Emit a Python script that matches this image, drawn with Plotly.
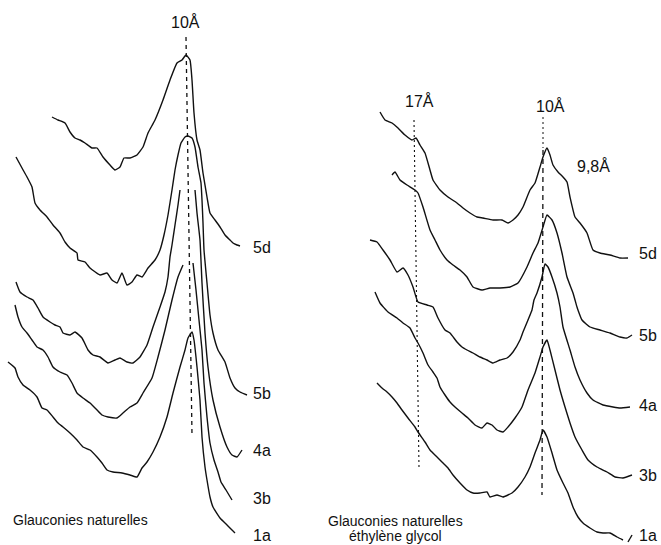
import plotly.graph_objects as go

# ---- Left panel: "Glauconies naturelles" (traces, image-pixel units)
L5d_x = [52, 58, 65, 70, 75, 80, 85, 92, 97, 103, 110, 115, 120, 124, 130, 137, 143, 148, 155, 163, 170, 177, 182, 186,
         190, 192, 194, 197, 200, 203, 207, 210, 215, 220, 225, 230, 233, 237, 240]
L5d_y = [117, 120, 123, 132, 138, 140, 143, 148, 148, 157, 165, 170, 167, 158, 158, 155, 147, 133, 120, 100, 80, 63, 60, 55,
         60, 80, 113, 140, 150, 173, 197, 213, 220, 227, 235, 240, 243, 245, 246]

L5b_x = [16, 22, 27, 32, 35, 40, 47, 53, 60, 65, 70, 77, 78, 85, 90, 100, 107, 112, 117, 122, 127, 132, 137, 142, 148, 155,
         160, 164, 168, 172, 175, 178, 181, 185, 188, 192, 195, 198, 201, 202, 203, 204, 207, 210, 213, 218, 225, 230, 235,
         240, 247]
L5b_y = [157, 168, 177, 187, 203, 210, 217, 225, 233, 242, 248, 253, 260, 262, 268, 275, 273, 280, 283, 273, 285, 282, 275,
         277, 268, 260, 250, 235, 215, 190, 170, 155, 143, 137, 136, 138, 147, 167, 183, 200, 223, 250, 283, 315, 333, 350,
         362, 378, 388, 392, 395]

L4a_x = [16, 20, 27, 33, 38, 43, 50, 55, 60, 63, 70, 75, 82, 88, 93, 100, 108, 115, 120, 127, 133, 140, 147, 153, 160, 165,
         168, 170, 172, 175, 178, 180, None,
         195, 197, 200, 202, 205, 208, 213, 220, 227, 232, 237, 242]
L4a_y = [282, 292, 297, 300, 308, 317, 322, 325, 327, 333, 335, 332, 338, 350, 355, 357, 363, 360, 358, 362, 363, 357, 345,
         327, 307, 292, 277, 257, 245, 225, 205, 190, None,
         190, 213, 240, 283, 333, 367, 400, 427, 447, 455, 457, 450]

L3b_x = [15, 18, 22, 27, 32, 37, 43, 48, 53, 60, 67, 72, 77, 83, 90, 97, 102, 108, 117, 123, 130, 137, 143, 152, 158, 165,
         172, 178, 183, None,
         193, 196, 199, 202, 204, 207, 210, 214, 218, 221, 226, 232]
L3b_y = [305, 317, 327, 333, 340, 347, 350, 357, 367, 372, 375, 383, 393, 398, 403, 410, 415, 417, 418, 413, 407, 403, 393,
         378, 357, 330, 300, 277, 265, None,
         263, 290, 320, 350, 383, 417, 443, 460, 472, 482, 490, 500]

L1a_x = [8, 15, 18, 23, 30, 37, 42, 47, 53, 58, 63, 70, 77, 83, 90, 97, 102, 107, 113, 122, 130, 137, 142, 147, 153, 160,
         167, 173, 180, 185, 188, 192, 194, 197, 200, 202, 205, 207, 210, 213, 220, 227, 232, 235]
L1a_y = [362, 368, 377, 385, 390, 397, 408, 410, 417, 423, 427, 433, 440, 447, 450, 457, 463, 470, 472, 473, 475, 477, 468,
         462, 452, 437, 417, 393, 367, 350, 338, 332, 340, 367, 400, 437, 467, 480, 497, 507, 518, 525, 530, 533]

# ---- Right panel: "Glauconies naturelles, éthylène glycol"
R5d_x = [380, 385, 392, 398, 405, 412, 416, 420, 425, 430, 433, 440, 448, 457, 463, 470, 477, 483, 493, 502, 508, 513, 518,
         523, 530, 535, 540, 543, 547, 550, 553, 558, 563, 567, 570, 575, 580, 587, 593, 600, 610, 620, 628]
R5d_y = [112, 120, 123, 128, 135, 140, 138, 145, 153, 170, 180, 190, 197, 203, 208, 213, 217, 218, 220, 220, 223, 220, 215,
         207, 190, 183, 167, 157, 148, 155, 165, 172, 177, 182, 197, 217, 223, 233, 250, 253, 255, 258, 258]

R5b_x = [392, 395, 400, 407, 415, 418, 423, 430, 435, 440, 447, 453, 460, 467, 473, 482, 490, 500, 510, 518, 527, 533, 538,
         543, 547, 552, 557, 562, 567, 573, 577, 578, 582, 590, 600, 610, 620, 627, 632]
R5b_y = [175, 172, 180, 185, 190, 193, 207, 230, 240, 250, 260, 265, 270, 277, 287, 290, 288, 288, 287, 283, 267, 253, 243,
         227, 215, 220, 233, 253, 277, 293, 307, 310, 320, 327, 330, 333, 337, 338, 335]

R4a_x = [370, 377, 383, 390, 397, 403, 408, 413, 418, 427, 433, 438, 445, 450, 457, 462, 467, 473, 480, 487, 493, 500, 507,
         513, 520, 523, 528, 532, 534, 537, 542, 545, 548, 552, 557, 560, 563, 570, 575, 580, 587, 593, 603, 613, 620, 630]
R4a_y = [240, 242, 250, 260, 272, 268, 275, 287, 302, 305, 307, 318, 330, 333, 342, 347, 350, 353, 357, 360, 363, 360, 358,
         352, 340, 332, 320, 310, 300, 293, 277, 264, 267, 277, 293, 307, 327, 350, 367, 380, 393, 400, 405, 407, 408, 407]

R3b_x = [375, 380, 388, 397, 403, 410, 415, 418, 423, 428, 433, 437, 440, 445, 450, 455, 462, 468, 475, 482, 487, 492, 497,
         503, 508, 515, 522, 528, 535, 540, 543, 547, 550, 555, 560, 565, 570, 575, 582, 588, 597, 607, 615, 623, 632]
R3b_y = [292, 303, 312, 318, 323, 328, 338, 343, 353, 365, 372, 378, 387, 395, 402, 407, 413, 418, 425, 428, 423, 425, 430,
         432, 427, 418, 407, 390, 373, 357, 347, 340, 350, 370, 390, 407, 423, 437, 450, 460, 467, 472, 477, 478, 475]

R1a_x = [377, 382, 387, 392, 397, 402, 408, 415, 418, 425, 430, 437, 443, 448, 453, 460, 467, 473, 480, 487, 490, 497, 503,
         512, 518, 525, 530, 535, 540, 543, 547, 552, 557, 563, 568, 573, 578, 583, 590, 597, 603, 610, 617, 623]
R1a_y = [383, 388, 392, 397, 403, 410, 418, 427, 432, 442, 450, 457, 463, 468, 475, 483, 490, 493, 493, 492, 497, 495, 497,
         493, 487, 477, 467, 453, 440, 430, 437, 453, 470, 483, 493, 507, 517, 523, 528, 532, 533, 533, 537, 540]
R1a_tick_x = [628, 632]
R1a_tick_y = [542, 535]

# ---- Reference lines (d-spacings) and labels
ref_lines = [
    # x0, y0, x1, y1, dash, width
    (186, 37, 192, 435, "4px,4px", 1.3),   # 10 Å, left panel
    (414, 120, 419, 468, "2px,3px", 1.1),  # 17 Å, right panel
    (543, 117, 543, 148, "2px,3px", 1.0),  # 10 Å, right panel (upper, dotted)
    (543, 150, 542, 495, "5px,4px", 1.3),  # 10 Å, right panel (lower, dashed)
]

spacing_labels = ["10Å", "17Å", "10Å", "9,8Å"]
spacing_pos = [(185, 22), (419, 101), (550, 106), (593, 166)]

sample_labels = ["5d", "5b", "4a", "3b", "1a"]
left_label_y = [247, 393, 450, 498, 535]
right_label_y = [253, 335, 405, 475, 535]

captions = ["Glauconies naturelles", "Glauconies naturelles", "éthylène glycol"]
caption_pos = [(80, 520), (395, 521), (395, 536)]

fig = go.Figure()

curves = [(L5d_x, L5d_y), (L5b_x, L5b_y), (L4a_x, L4a_y), (L3b_x, L3b_y), (L1a_x, L1a_y),
          (R5d_x, R5d_y), (R5b_x, R5b_y), (R4a_x, R4a_y), (R3b_x, R3b_y), (R1a_x, R1a_y),
          (R1a_tick_x, R1a_tick_y)]
for cx, cy in curves:
    fig.add_trace(go.Scatter(x=cx, y=cy, mode="lines", connectgaps=False,
                             line=dict(color="#111111", width=1.4, shape="spline", smoothing=0.4),
                             hoverinfo="skip", showlegend=False))

for x0, y0, x1, y1, dash, w in ref_lines:
    fig.add_trace(go.Scatter(x=[x0, x1], y=[y0, y1], mode="lines",
                             line=dict(color="#111111", width=w, dash=dash),
                             hoverinfo="skip", showlegend=False))

font = dict(family="Liberation Sans, Arial, sans-serif", color="#111111")
for txt, (tx, ty) in zip(spacing_labels, spacing_pos):
    fig.add_annotation(x=tx, y=ty, text=txt, showarrow=False, xref="x", yref="y",
                       font=dict(size=16, **font))
for txt, ly in zip(sample_labels, left_label_y):
    fig.add_annotation(x=251, y=ly, text=txt, showarrow=False, xanchor="left", xref="x", yref="y",
                       font=dict(size=16, **font))
for txt, ly in zip(sample_labels, right_label_y):
    fig.add_annotation(x=637, y=ly, text=txt, showarrow=False, xanchor="left", xref="x", yref="y",
                       font=dict(size=16, **font))
for txt, (tx, ty) in zip(captions, caption_pos):
    fig.add_annotation(x=tx, y=ty, text=txt, showarrow=False, xref="x", yref="y",
                       font=dict(size=14, **font))

fig.update_layout(
    width=661, height=545,
    margin=dict(l=0, r=0, t=0, b=0),
    paper_bgcolor="white", plot_bgcolor="white",
    xaxis=dict(range=[0, 661], visible=False, fixedrange=True),
    yaxis=dict(range=[545, 0], visible=False, fixedrange=True),
)

fig.write_html("out.html", config={"displayModeBar": False},
               post_script="document.body.style.margin='0';document.body.style.padding='0';"
                           "document.body.style.overflow='hidden';")
